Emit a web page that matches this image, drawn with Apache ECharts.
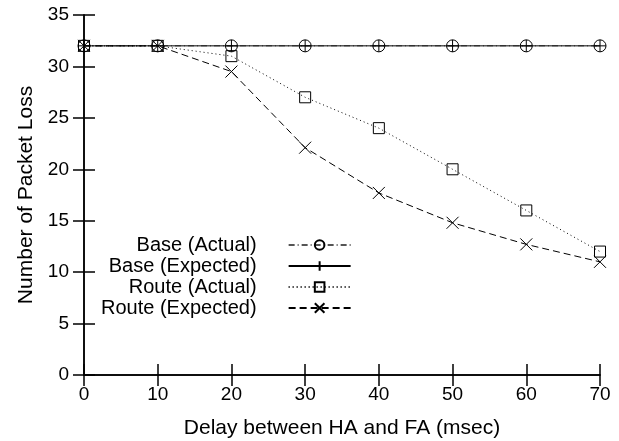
<!DOCTYPE html>
<html>
<head>
<meta charset="utf-8">
<script src="https://cdn.jsdelivr.net/npm/echarts@6/dist/echarts.min.js"></script>
<style>
    html, body { margin: 0; padding: 0; background: #fff; }
    #chart { width: 619px; height: 441px; }
</style>
</head>
<body>
<div id="chart"></div>
<script>
    // delay between HA and FA (msec)
    var delays = [0, 10, 20, 30, 40, 50, 60, 70];
    var baseActual = [32, 32, 32, 32, 32, 32, 32, 32];
    var baseExpected = [32, 32, 32, 32, 32, 32, 32, 32];
    var routeActual = [32, 32, 31, 27, 24, 20, 16, 12];
    var routeExpected = [32, 32, 29.5, 22.1, 17.7, 14.8, 12.7, 11];
    var seriesNames = ['Base (Actual)', 'Base (Expected)', 'Route (Actual)', 'Route (Expected)'];

    var FONT = 'Liberation Sans, Arial, Helvetica, sans-serif';
    var circlePath = 'path://M12,6 A6,6 0 1,1 0,6 A6,6 0 1,1 12,6 Z';
    var plusPath = 'path://M6,0 L6,12 M0,6 L12,6';
    var squarePath = 'path://M0,0 L12,0 L12,12 L0,12 Z';
    var crossPath = 'path://M0,0 L12,12 M12,0 L0,12';

    function pairs(vals) {
        return delays.map(function (d, i) { return [d, vals[i]]; });
    }

    function makeSeries(name, vals, symbol, size, dash, lineColor) {
        return {
            name: name,
            type: 'line',
            data: pairs(vals),
            symbol: symbol,
            symbolSize: size,
            showAllSymbol: true,
            color: '#000',
            lineStyle: { color: lineColor, width: 1, type: dash },
            itemStyle: { color: 'rgba(0,0,0,0)', borderColor: '#000', borderWidth: 1 },
            emphasis: { disabled: true },
            animation: false
        };
    }

    var myChart = echarts.init(document.getElementById('chart'));
    myChart.setOption({
        backgroundColor: '#fff',
        animation: false,
        grid: { left: 84, right: 19, top: 15, bottom: 66, outerBoundsMode: 'none', containLabel: false },
        legend: {
            orient: 'vertical',
            align: 'right',
            left: 101,
            top: 235,
            padding: 0,
            itemWidth: 62,
            itemHeight: 12,
            itemGap: 1,
            textStyle: { fontFamily: FONT, fontSize: 20, color: '#000', padding: [0, 27, 0, 0] },
            data: seriesNames
        },
        xAxis: [{
            type: 'value',
            min: 0, max: 70, interval: 10,
            name: 'Delay between HA and FA (msec)',
            nameLocation: 'middle',
            nameGap: 43,
            nameTextStyle: { fontFamily: FONT, fontSize: 21, color: '#000' },
            axisLine: { lineStyle: { color: '#000', width: 1.5 } },
            axisTick: { inside: true, length: 11, lineStyle: { color: '#000', width: 1.5 } },
            axisLabel: { fontFamily: FONT, fontSize: 19, color: '#000', margin: 10 },
            splitLine: { show: false }
        }, {
            type: 'value', position: 'top',
            min: 0, max: 70, interval: 10,
            axisLine: { lineStyle: { color: '#000', width: 1.5 } },
            axisTick: { inside: true, length: 11, lineStyle: { color: '#000', width: 1.5 } },
            axisLabel: { show: false },
            splitLine: { show: false }
        }],
        yAxis: [{
            type: 'value',
            min: 0, max: 35, interval: 5,
            name: 'Number of Packet Loss',
            nameLocation: 'middle',
            nameGap: 47,
            nameTextStyle: { fontFamily: FONT, fontSize: 21, color: '#000' },
            axisLine: { show: true, lineStyle: { color: '#000', width: 1.5 } },
            axisTick: { show: true, inside: true, length: 11, lineStyle: { color: '#000', width: 1.5 } },
            axisLabel: { fontFamily: FONT, fontSize: 19, color: '#000', margin: 15 },
            splitLine: { show: false }
        }, {
            type: 'value', position: 'right',
            min: 0, max: 35, interval: 5,
            axisLine: { show: true, lineStyle: { color: '#000', width: 1.5 } },
            axisTick: { show: true, inside: true, length: 11, lineStyle: { color: '#000', width: 1.5 } },
            axisLabel: { show: false },
            splitLine: { show: false }
        }],
        series: [
            makeSeries(seriesNames[0], baseActual, circlePath, 12, [6, 3, 1, 3], '#555'),
            makeSeries(seriesNames[1], baseExpected, plusPath, 12, 'solid', '#000'),
            makeSeries(seriesNames[2], routeActual, squarePath, 11, [1, 3], '#000'),
            makeSeries(seriesNames[3], routeExpected, crossPath, 12, [7, 4], '#000')
        ]
    });
</script>
</body>
</html>
